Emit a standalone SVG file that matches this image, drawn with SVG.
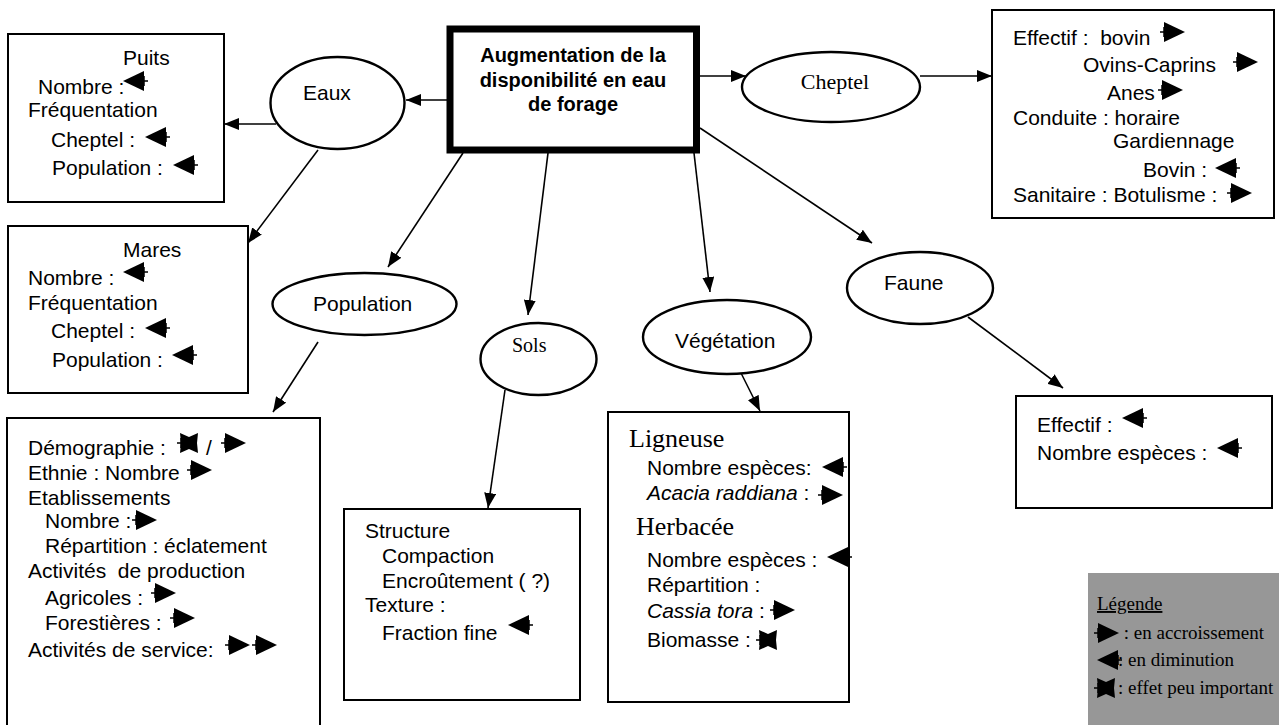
<svg xmlns="http://www.w3.org/2000/svg" xmlns:xlink="http://www.w3.org/1999/xlink" width="1279" height="725" viewBox="0 0 1279 725">
<style>
.a{font-family:"Liberation Sans",Arial,sans-serif;font-size:21px;fill:#000}
.b{font-family:"Liberation Sans",Arial,sans-serif;font-size:20px;font-weight:bold;fill:#000}
.s{font-family:"Liberation Serif","Times New Roman",serif;fill:#000}
.box{fill:#fff;stroke:#000;stroke-width:2}
.ell{fill:#fff;stroke:#000;stroke-width:2.4}
.con{stroke:#000;stroke-width:1.6;fill:none;marker-end:url(#ah)}
</style>
<defs>
<marker id="ah" viewBox="0 0 15 12" refX="15" refY="6" markerWidth="15" markerHeight="12" orient="auto" markerUnits="userSpaceOnUse"><path d="M0,0 L15,6 L0,12 Z" fill="#000"/></marker>
<g id="inc"><path d="M0,0 H6 M4,-5 V5" stroke="#000" stroke-width="1.5"/><path d="M4,-10 L25,0 L4,10 Z" fill="#000"/></g>
<g id="dec"><path d="M19,0 H25 M21,-5 V5" stroke="#000" stroke-width="1.5"/><path d="M0,0 L21,-10 L21,10 Z" fill="#000"/></g>
<g id="peu"><path d="M0,0 H5 M4,-5 V5" stroke="#000" stroke-width="1.5"/><path d="M3,-10 L12,-6 L21,-10 L20,0 L21,10 L12,6 L3,10 L4,0 Z" fill="#000"/></g>
</defs>
<rect width="1279" height="725" fill="#fff"/>

<g id="connectors">
<line class="con" x1="447" y1="100" x2="406" y2="100"/>
<line class="con" x1="700" y1="76" x2="746" y2="76"/>
<line class="con" x1="920" y1="76" x2="992" y2="76"/>
<line class="con" x1="276" y1="124" x2="224" y2="124"/>
<line class="con" x1="318" y1="150" x2="248" y2="243"/>
<line class="con" x1="463" y1="153" x2="388" y2="267"/>
<line class="con" x1="318" y1="342" x2="273" y2="412"/>
<line class="con" x1="548" y1="153" x2="528" y2="315"/>
<line class="con" x1="505" y1="390" x2="488" y2="508"/>
<line class="con" x1="694" y1="153" x2="710" y2="292"/>
<line class="con" x1="737" y1="365" x2="760" y2="411"/>
<line class="con" x1="700" y1="128" x2="872" y2="243"/>
<line class="con" x1="968" y1="317" x2="1063" y2="388"/>
</g>

<g id="central">
<rect x="450" y="29" width="246.5" height="121" fill="#fff" stroke="#000" stroke-width="7"/>
<text class="b" x="573" y="62" text-anchor="middle">Augmentation de la</text>
<text class="b" x="573" y="87" text-anchor="middle">disponibilité en eau</text>
<text class="b" x="573" y="111" text-anchor="middle">de forage</text>
</g>

<g id="eaux">
<ellipse class="ell" cx="337.5" cy="103" rx="67" ry="46"/>
<text class="a" x="303" y="100">Eaux</text>
</g>

<g id="puits">
<rect class="box" x="8" y="34" width="216" height="168"/>
<text class="a" x="123" y="65">Puits</text>
<text class="a" x="38" y="94">Nombre :</text>
<use xlink:href="#dec" x="123" y="81"/>
<text class="a" x="28" y="117">Fréquentation</text>
<text class="a" x="51" y="147">Cheptel :</text>
<use xlink:href="#dec" x="145" y="137"/>
<text class="a" x="52" y="175">Population :</text>
<use xlink:href="#dec" x="173" y="165"/>
</g>

<g id="mares">
<rect class="box" x="8" y="226" width="240" height="167"/>
<text class="a" x="123" y="257">Mares</text>
<text class="a" x="28" y="285">Nombre :</text>
<use xlink:href="#dec" x="123" y="272"/>
<text class="a" x="28" y="310">Fréquentation</text>
<text class="a" x="51" y="338">Cheptel :</text>
<use xlink:href="#dec" x="145" y="328"/>
<text class="a" x="52" y="367">Population :</text>
<use xlink:href="#dec" x="172" y="355"/>
</g>

<g id="cheptel">
<ellipse class="ell" cx="831" cy="87" rx="89" ry="35"/>
<text class="s" x="835" y="89" font-size="22" text-anchor="middle">Cheptel</text>
</g>

<g id="cheptel-box">
<rect class="box" x="992" y="10" width="282" height="208"/>
<text class="a" x="1013" y="45" xml:space="preserve">Effectif :  bovin</text>
<use xlink:href="#inc" x="1160" y="32"/>
<text class="a" x="1083" y="72">Ovins-Caprins</text>
<use xlink:href="#inc" x="1233" y="62"/>
<text class="a" x="1107" y="100">Anes</text>
<use xlink:href="#inc" x="1158" y="90"/>
<text class="a" x="1013" y="125">Conduite : horaire</text>
<text class="a" x="1113" y="148">Gardiennage</text>
<text class="a" x="1143" y="177">Bovin :</text>
<use xlink:href="#dec" x="1215" y="168"/>
<text class="a" x="1013" y="202">Sanitaire : Botulisme :</text>
<use xlink:href="#inc" x="1227" y="193"/>
</g>

<g id="population">
<ellipse class="ell" cx="364.5" cy="304" rx="92" ry="31"/>
<text class="a" x="313" y="311">Population</text>
</g>

<g id="population-box">
<rect class="box" x="7" y="418" width="313" height="320"/>
<text class="a" x="28" y="455">Démographie :</text>
<use xlink:href="#peu" x="177" y="443"/>
<text class="a" x="206" y="455">/</text>
<use xlink:href="#inc" x="221" y="443"/>
<text class="a" x="28" y="480">Ethnie : Nombre</text>
<use xlink:href="#inc" x="187" y="470"/>
<text class="a" x="28" y="505">Etablissements</text>
<text class="a" x="45" y="528">Nombre :</text>
<use xlink:href="#inc" x="132" y="520"/>
<text class="a" x="45" y="553">Répartition : éclatement</text>
<text class="a" x="28" y="578">Activités&#160; de production</text>
<text class="a" x="45" y="605">Agricoles :</text>
<use xlink:href="#inc" x="151" y="593"/>
<text class="a" x="45" y="630">Forestières :</text>
<use xlink:href="#inc" x="170" y="618"/>
<text class="a" x="28" y="657">Activités de service:</text>
<use xlink:href="#inc" x="225" y="645"/>
<use xlink:href="#inc" x="252" y="645"/>
</g>

<g id="sols">
<ellipse class="ell" cx="538.5" cy="359" rx="58" ry="36"/>
<text class="s" x="512" y="352" font-size="20">Sols</text>
</g>

<g id="sols-box">
<rect class="box" x="344" y="509" width="236" height="191"/>
<text class="a" x="365" y="538">Structure</text>
<text class="a" x="382" y="563">Compaction</text>
<text class="a" x="382" y="588">Encroûtement ( ?)</text>
<text class="a" x="365" y="612">Texture :</text>
<text class="a" x="382" y="640">Fraction fine</text>
<use xlink:href="#dec" x="508" y="625"/>
</g>

<g id="vegetation">
<ellipse class="ell" cx="727" cy="337" rx="84" ry="37"/>
<text class="a" x="675" y="348">Végétation</text>
</g>

<g id="vegetation-box">
<rect class="box" x="608" y="412" width="241" height="290"/>
<text class="s" x="629" y="447" font-size="26">Ligneuse</text>
<text class="a" x="647" y="475">Nombre espèces:</text>
<use xlink:href="#dec" x="822" y="467"/>
<text class="a" x="647" y="500"><tspan font-style="italic">Acacia raddiana</tspan> :</text>
<use xlink:href="#inc" x="818" y="495"/>
<text class="s" x="636" y="535" font-size="26">Herbacée</text>
<text class="a" x="647" y="567">Nombre espèces :</text>
<use xlink:href="#dec" x="827" y="557"/>
<text class="a" x="647" y="592">Répartition :</text>
<text class="a" x="647" y="618"><tspan font-style="italic">Cassia tora</tspan> :</text>
<use xlink:href="#inc" x="770" y="610"/>
<text class="a" x="647" y="647">Biomasse :</text>
<use xlink:href="#peu" x="756" y="640"/>
</g>

<g id="faune">
<ellipse class="ell" cx="920" cy="288" rx="73" ry="36"/>
<text class="a" x="884" y="290">Faune</text>
</g>

<g id="faune-box">
<rect class="box" x="1016" y="396" width="256" height="112"/>
<text class="a" x="1037" y="432">Effectif :</text>
<use xlink:href="#dec" x="1122" y="418"/>
<text class="a" x="1037" y="460">Nombre espèces :</text>
<use xlink:href="#dec" x="1217" y="448"/>
</g>

<g id="legende">
<rect x="1088" y="573" width="191" height="152" fill="#979797"/>
<text class="s" x="1097" y="610" font-size="19" text-decoration="underline">Légende</text>
<use xlink:href="#inc" x="1094" y="633"/>
<text class="s" x="1119" y="639" font-size="19" xml:space="preserve"> : en accroissement</text>
<use xlink:href="#dec" x="1097" y="660"/>
<text class="s" x="1118" y="666" font-size="19">: en diminution</text>
<use xlink:href="#peu" x="1094" y="688"/>
<text class="s" x="1118" y="694" font-size="19">: effet peu important</text>
</g>
</svg>
